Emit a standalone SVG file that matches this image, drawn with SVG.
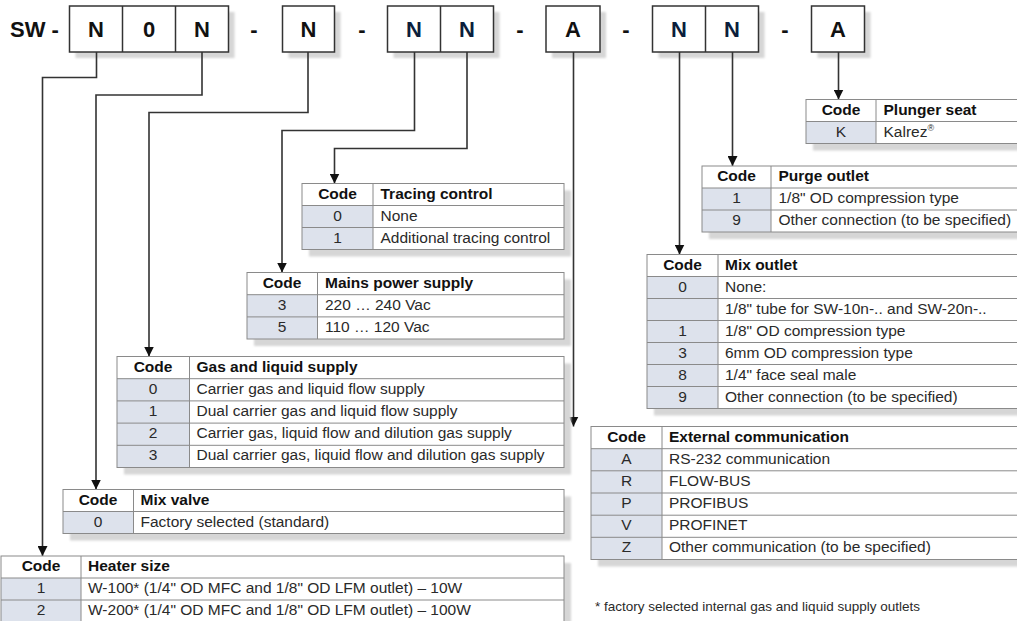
<svg xmlns="http://www.w3.org/2000/svg" width="1017" height="621" viewBox="0 0 1017 621">
<style>
  .bg{fill:#ffffff}
  .sh{fill:#d6d6d6;filter:url(#blur)}
  .cf{fill:#dde2ec}
  .ln{stroke:#8a8a8a;stroke-width:1;fill:none}
  .bx{fill:#ffffff;stroke:#333333;stroke-width:1.5}
  .big{font-family:"Liberation Sans",Arial,sans-serif;font-weight:bold;font-size:22px;fill:#111111;text-anchor:middle}
  .navy{fill:#0b1e3c}
  .h{font-family:"Liberation Sans",Arial,sans-serif;font-weight:bold;font-size:15.5px;fill:#111111}
  .t{font-family:"Liberation Sans",Arial,sans-serif;font-size:15.5px;fill:#2a2a2a}
  .c{text-anchor:middle}
  .fn{font-family:"Liberation Sans",Arial,sans-serif;font-size:13.5px;fill:#2a2a2a}
  .con{stroke:#333333;stroke-width:1.6;fill:none;marker-end:url(#arr)}
</style>
<defs>
  <filter id="blur" x="-5%" y="-20%" width="110%" height="140%"><feGaussianBlur stdDeviation="1.2"/></filter>
  <marker id="arr" markerUnits="userSpaceOnUse" markerWidth="10" markerHeight="10" refX="10" refY="5" orient="auto">
    <path d="M0,0 L10,5 L0,10 z" fill="#111111"/>
  </marker>
</defs>
<rect width="1017" height="621" fill="#ffffff"/>

<g id="code-header">
  <text class="big" x="10" y="37" style="text-anchor:start">SW -</text>
  <rect class="sh" x="75.5" y="12" width="159" height="46"/>
  <rect class="bx" x="69.5" y="6" width="159" height="46"/>
  <line x1="122.5" y1="6" x2="122.5" y2="52" stroke="#333" stroke-width="1.5"/>
  <line x1="175.5" y1="6" x2="175.5" y2="52" stroke="#333" stroke-width="1.5"/>
  <text class="big" x="96" y="37">N</text>
  <text class="big" x="149" y="37">0</text>
  <text class="big" x="202" y="37">N</text>
  <text class="big" x="254" y="37">-</text>
  <rect class="sh" x="288.5" y="12" width="52" height="46"/>
  <rect class="bx" x="282.5" y="6" width="52" height="46"/>
  <text class="big" x="308.5" y="37">N</text>
  <text class="big" x="362" y="37">-</text>
  <rect class="sh" x="393.5" y="12" width="106" height="46"/>
  <rect class="bx" x="387.5" y="6" width="106" height="46"/>
  <line x1="440.5" y1="6" x2="440.5" y2="52" stroke="#333" stroke-width="1.5"/>
  <text class="big navy" x="414" y="37">N</text>
  <text class="big navy" x="467" y="37">N</text>
  <text class="big" x="520" y="37">-</text>
  <rect class="sh" x="552" y="12" width="54" height="46"/>
  <rect class="bx" x="546" y="6" width="54" height="46"/>
  <text class="big" x="573" y="37">A</text>
  <text class="big" x="626" y="37">-</text>
  <rect class="sh" x="658.5" y="12" width="106" height="46"/>
  <rect class="bx" x="652.5" y="6" width="106" height="46"/>
  <line x1="705.5" y1="6" x2="705.5" y2="52" stroke="#333" stroke-width="1.5"/>
  <text class="big navy" x="679" y="37">N</text>
  <text class="big navy" x="732" y="37">N</text>
  <text class="big" x="785" y="37">-</text>
  <rect class="sh" x="817.5" y="12" width="53" height="46"/>
  <rect class="bx" x="811.5" y="6" width="53" height="46"/>
  <text class="big" x="838" y="37">A</text>
</g>

<g id="connectors">
  <path class="con" d="M96.5,52 V77.5 H42.5 V556"/>
  <path class="con" d="M202,52 V95 H96 V489.5"/>
  <path class="con" d="M308,52 V112.5 H149 V356.5"/>
  <path class="con" d="M414.5,52 V130.5 H282 V272.5"/>
  <path class="con" d="M467,52 V148.5 H334.5 V183.5"/>
  <path class="con" d="M573.5,52 V426.5"/>
  <path class="con" d="M679.5,52 V254.5"/>
  <path class="con" d="M732.5,52 V166"/>
  <path class="con" d="M838.5,52 V99.5"/>
</g>

<g id="t-plunger">
  <rect class="sh" x="813" y="106.5" width="230" height="44"/>
  <rect class="bg" x="806" y="99.5" width="230" height="44"/>
  <rect class="cf" x="806" y="121.5" width="70" height="22"/>
  <path class="ln" d="M806,121.5 H1040 M876,99.5 V143.5"/>
  <rect class="ln" x="806" y="99.5" width="234" height="44"/>
  <text class="h c" x="841" y="114.5">Code</text>
  <text class="h" x="883.5" y="114.5">Plunger seat</text>
  <text class="t c" x="841" y="136.5">K</text>
  <text class="t" x="883.5" y="136.5">Kalrez<tspan font-size="9" dy="-6">®</tspan></text>
</g>

<g id="t-purge">
  <rect class="sh" x="709" y="173" width="330" height="66"/>
  <rect class="bg" x="702" y="166" width="330" height="66"/>
  <rect class="cf" x="702" y="188" width="69" height="44"/>
  <path class="ln" d="M702,188 H1040 M702,210 H1040 M771,166 V232"/>
  <rect class="ln" x="702" y="166" width="338" height="66"/>
  <text class="h c" x="736.5" y="181">Code</text>
  <text class="h" x="778.5" y="181">Purge outlet</text>
  <text class="t c" x="736.5" y="203">1</text>
  <text class="t" x="778.5" y="203">1/8" OD compression type</text>
  <text class="t c" x="736.5" y="225">9</text>
  <text class="t" x="778.5" y="225">Other connection (to be specified)</text>
</g>

<g id="t-tracing">
  <rect class="sh" x="309" y="190.5" width="262" height="66"/>
  <rect class="bg" x="302" y="183.5" width="262" height="66"/>
  <rect class="cf" x="302" y="205.5" width="71" height="44"/>
  <path class="ln" d="M302,205.5 H564 M302,227.5 H564 M373,183.5 V249.5"/>
  <rect class="ln" x="302" y="183.5" width="262" height="66"/>
  <text class="h c" x="337.5" y="198.5">Code</text>
  <text class="h" x="380.5" y="198.5">Tracing control</text>
  <text class="t c" x="337.5" y="220.5">0</text>
  <text class="t" x="380.5" y="220.5">None</text>
  <text class="t c" x="337.5" y="242.5">1</text>
  <text class="t" x="380.5" y="242.5">Additional tracing control</text>
</g>

<g id="t-mains">
  <rect class="sh" x="254" y="279.5" width="317" height="66.5"/>
  <rect class="bg" x="247" y="272.5" width="317" height="66.5"/>
  <rect class="cf" x="247" y="294.7" width="70.5" height="44.3"/>
  <path class="ln" d="M247,294.7 H564 M247,316.9 H564 M317.5,272.5 V339"/>
  <rect class="ln" x="247" y="272.5" width="317" height="66.5"/>
  <text class="h c" x="282" y="287.5">Code</text>
  <text class="h" x="325" y="287.5">Mains power supply</text>
  <text class="t c" x="282" y="309.7">3</text>
  <text class="t" x="325" y="309.7">220 … 240 Vac</text>
  <text class="t c" x="282" y="331.9">5</text>
  <text class="t" x="325" y="331.9">110 … 120 Vac</text>
</g>

<g id="t-gas">
  <rect class="sh" x="124" y="363.5" width="447" height="111"/>
  <rect class="bg" x="117" y="356.5" width="447" height="111"/>
  <rect class="cf" x="117" y="378.7" width="72.5" height="88.8"/>
  <path class="ln" d="M117,378.7 H564 M117,400.9 H564 M117,423.1 H564 M117,445.3 H564 M189.5,356.5 V467.5"/>
  <rect class="ln" x="117" y="356.5" width="447" height="111"/>
  <text class="h c" x="153" y="371.5">Code</text>
  <text class="h" x="196.5" y="371.5">Gas and liquid supply</text>
  <text class="t c" x="153" y="393.7">0</text>
  <text class="t" x="196.5" y="393.7">Carrier gas and liquid flow supply</text>
  <text class="t c" x="153" y="415.9">1</text>
  <text class="t" x="196.5" y="415.9">Dual carrier gas and liquid flow supply</text>
  <text class="t c" x="153" y="438.1">2</text>
  <text class="t" x="196.5" y="438.1">Carrier gas, liquid flow and dilution gas supply</text>
  <text class="t c" x="153" y="460.3">3</text>
  <text class="t" x="196.5" y="460.3">Dual carrier gas, liquid flow and dilution gas supply</text>
</g>

<g id="t-mixvalve">
  <rect class="sh" x="70" y="496.5" width="501" height="44"/>
  <rect class="bg" x="63" y="489.5" width="501" height="44"/>
  <rect class="cf" x="63" y="511.5" width="70.5" height="22"/>
  <path class="ln" d="M63,511.5 H564 M133.5,489.5 V533.5"/>
  <rect class="ln" x="63" y="489.5" width="501" height="44"/>
  <text class="h c" x="98" y="504.5">Code</text>
  <text class="h" x="140.5" y="504.5">Mix valve</text>
  <text class="t c" x="98" y="526.5">0</text>
  <text class="t" x="140.5" y="526.5">Factory selected (standard)</text>
</g>

<g id="t-heater">
  <rect class="sh" x="8" y="563" width="563" height="66"/>
  <rect class="bg" x="1" y="556" width="563" height="66"/>
  <rect class="cf" x="1" y="578" width="80" height="44"/>
  <path class="ln" d="M1,578 H564 M1,600 H564 M81,556 V622"/>
  <rect class="ln" x="1" y="556" width="563" height="66"/>
  <text class="h c" x="41" y="571">Code</text>
  <text class="h" x="88" y="571">Heater size</text>
  <text class="t c" x="41" y="593">1</text>
  <text class="t" x="88" y="593">W-100* (1/4" OD MFC and 1/8" OD LFM outlet) – 10W</text>
  <text class="t c" x="41" y="615">2</text>
  <text class="t" x="88" y="615">W-200* (1/4" OD MFC and 1/8" OD LFM outlet) – 100W</text>
</g>

<g id="t-mixoutlet">
  <rect class="sh" x="654" y="261.5" width="400" height="154"/>
  <rect class="bg" x="647" y="254.5" width="400" height="154"/>
  <rect class="cf" x="647" y="276.5" width="71" height="132"/>
  <path class="ln" d="M647,276.5 H1040 M647,298.5 H1040 M647,320.5 H1040 M647,342.5 H1040 M647,364.5 H1040 M647,386.5 H1040 M718,254.5 V408.5"/>
  <rect class="ln" x="647" y="254.5" width="393" height="154"/>
  <text class="h c" x="682.5" y="269.5">Code</text>
  <text class="h" x="725" y="269.5">Mix outlet</text>
  <text class="t c" x="682.5" y="291.5">0</text>
  <text class="t" x="725" y="291.5">None:</text>
  <text class="t" x="725" y="313.5">1/8" tube for SW-10n-.. and SW-20n-..</text>
  <text class="t c" x="682.5" y="335.5">1</text>
  <text class="t" x="725" y="335.5">1/8" OD compression type</text>
  <text class="t c" x="682.5" y="357.5">3</text>
  <text class="t" x="725" y="357.5">6mm OD compression type</text>
  <text class="t c" x="682.5" y="379.5">8</text>
  <text class="t" x="725" y="379.5">1/4" face seal male</text>
  <text class="t c" x="682.5" y="401.5">9</text>
  <text class="t" x="725" y="401.5">Other connection (to be specified)</text>
</g>

<g id="t-extcomm">
  <rect class="sh" x="598" y="433.5" width="450" height="133"/>
  <rect class="bg" x="591" y="426.5" width="450" height="133"/>
  <rect class="cf" x="591" y="448.7" width="71" height="110.8"/>
  <path class="ln" d="M591,448.7 H1040 M591,470.8 H1040 M591,493 H1040 M591,515.2 H1040 M591,537.3 H1040 M662,426.5 V559.5"/>
  <rect class="ln" x="591" y="426.5" width="449" height="133"/>
  <text class="h c" x="626.5" y="441.5">Code</text>
  <text class="h" x="669" y="441.5">External communication</text>
  <text class="t c" x="626.5" y="463.7">A</text>
  <text class="t" x="669" y="463.7">RS-232 communication</text>
  <text class="t c" x="626.5" y="485.8">R</text>
  <text class="t" x="669" y="485.8">FLOW-BUS</text>
  <text class="t c" x="626.5" y="508">P</text>
  <text class="t" x="669" y="508">PROFIBUS</text>
  <text class="t c" x="626.5" y="530.2">V</text>
  <text class="t" x="669" y="530.2">PROFINET</text>
  <text class="t c" x="626.5" y="552.3">Z</text>
  <text class="t" x="669" y="552.3">Other communication (to be specified)</text>
</g>

<text class="fn" x="595" y="611">* factory selected internal gas and liquid supply outlets</text>
</svg>
